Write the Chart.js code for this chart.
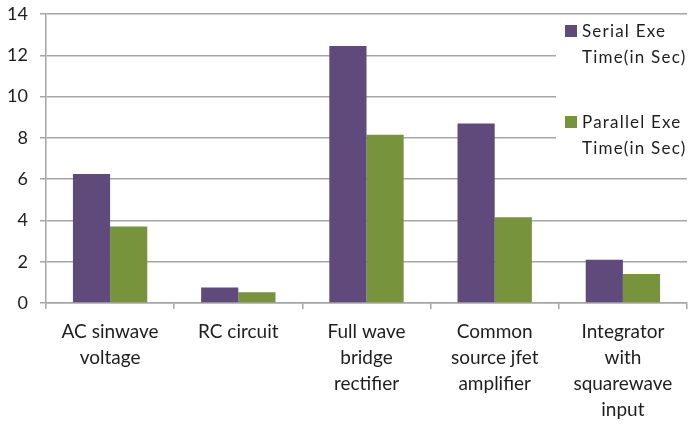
<!DOCTYPE html>
<html>
<head>
<meta charset="utf-8">
<script src="https://cdn.jsdelivr.net/npm/chart.js@4/dist/chart.umd.min.js"></script>
<style>
  html, body { margin: 0; padding: 0; background: #fff; }
  #wrap { width: 690px; height: 424px; }
</style>
</head>
<body>
<div id="wrap"><canvas id="myChart" width="690" height="424"></canvas></div>
<script>
// Serial vs parallel execution time per circuit

const circuits = [
  ["AC sinwave", "voltage"],
  ["RC circuit"],
  ["Full wave", "bridge", "rectifier"],
  ["Common", "source jfet", "amplifier"],
  ["Integrator", "with", "squarewave", "input"],
];
const serialLabel = ["Serial Exe", "Time(in Sec)"];
const parallelLabel = ["Parallel Exe", "Time(in Sec)"];
const serialTimes = [6.25, 0.75, 12.45, 8.7, 2.1];
const parallelTimes = [3.7, 0.52, 8.15, 4.15, 1.4];
const yTicks = [0, 2, 4, 6, 8, 10, 12, 14];

const purple = "#604a7b";
const green = "#77933c";
const gridGray = "#a6a6a6";
const textColor = "#1e1e1e";
const fontFamily = "Lato, 'Noto Sans', sans-serif";

const ctx = document.querySelector("#myChart");

// legend drawn inside the plot area, on a white box like the original
const boxLegend = {
  id: "boxLegend",
  afterDraw(chart) {
    const c = chart.ctx;
    c.save();
    c.fillStyle = "#fff";
    c.fillRect(556, 19, 134, 146);
    c.font = "17px " + fontFamily;
    c.letterSpacing = "1.2px";
    c.textBaseline = "middle";
    c.textAlign = "left";
    chart.data.datasets.forEach((ds, i) => {
      const top = 25 + i * 91;
      c.fillStyle = ds.backgroundColor;
      c.fillRect(565, top, 12, 12);
      c.fillStyle = textColor;
      ds.legendLines.forEach((line, j) => {
        c.fillText(line, 582, top + 7 + j * 26);
      });
    });
    c.restore();
  },
};

const config = {
  type: "bar",
  data: {
    labels: circuits,
    datasets: [
      {
        label: serialLabel.join(" "),
        legendLines: serialLabel,
        data: serialTimes,
        backgroundColor: purple,
      },
      {
        label: parallelLabel.join(" "),
        legendLines: parallelLabel,
        data: parallelTimes,
        backgroundColor: green,
      },
    ],
  },
  options: {
    responsive: false,
    animation: false,
    layout: { padding: { top: 14, right: 3, left: 0, bottom: 0 } },
    datasets: {
      bar: { categoryPercentage: 0.58, barPercentage: 1.0 },
    },
    plugins: {
      legend: { display: false },
      tooltip: { enabled: false },
    },
    scales: {
      x: {
        afterFit(scale) {
          scale.height = 121;
          scale.paddingTop = 0;
          scale.paddingBottom = 0;
        },
        grid: {
          drawOnChartArea: false,
          drawTicks: true,
          tickLength: 6,
          color: gridGray,
          lineWidth: 1.5,
        },
        border: { color: gridGray, width: 1.5 },
        ticks: {
          color: textColor,
          font: { family: fontFamily, size: 19, lineHeight: 1.37 },
          padding: 10,
          maxRotation: 0,
          autoSkip: false,
        },
      },
      y: {
        min: 0,
        max: 14,
        afterFit(scale) {
          scale.width = 46;
          scale.paddingTop = 0;
          scale.paddingBottom = 0;
        },
        afterBuildTicks(scale) {
          scale.ticks = yTicks.map((v) => ({ value: v }));
        },
        grid: {
          color: gridGray,
          lineWidth: 1.5,
          tickLength: 6,
        },
        border: { color: gridGray, width: 1.5 },
        ticks: {
          color: textColor,
          font: { family: fontFamily, size: 18 },
          padding: 12,
        },
      },
    },
  },
  plugins: [boxLegend],
};

const chart = new Chart(ctx, config);
</script>
</body>
</html>
